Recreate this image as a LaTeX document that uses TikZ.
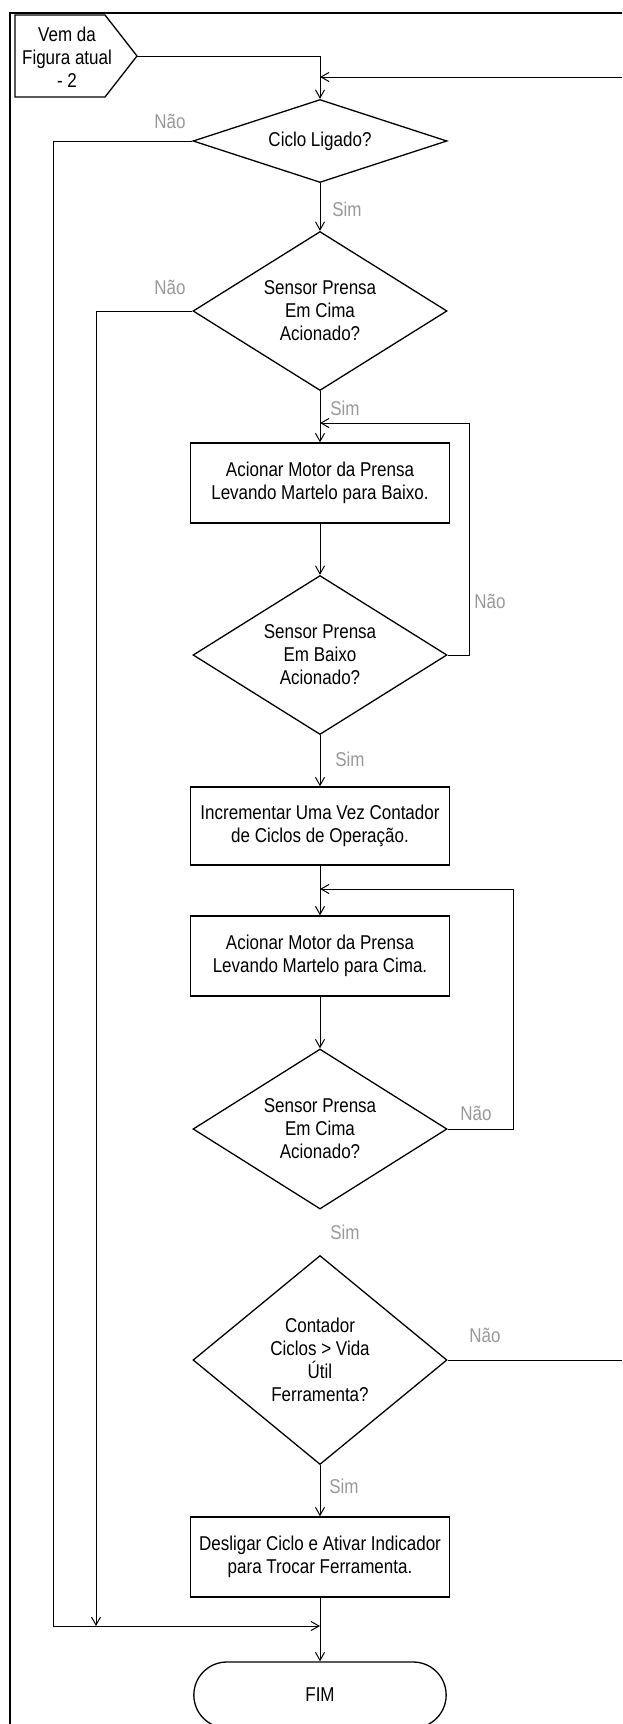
\documentclass[tikz,border=0pt]{standalone}
\usepackage{fontspec}
\setmainfont[FakeStretch=0.85]{Liberation Sans}
\usetikzlibrary{shapes.geometric,shapes.misc,arrows.meta}

\newcommand*{\xmax}{622}
\newcommand*{\ymax}{1724}
\newcommand*{\xcol}{320}

\begin{document}
\begin{tikzpicture}
[
	x=1pt, y=-1pt,
	every node/.style={font=\fontsize{20}{23}\selectfont, align=center},
	>={Straight Barb[length=8pt,width=9pt]},
	caixa/.style={rectangle,draw,line width=1.3pt,inner sep=2pt,minimum width=259pt,minimum height=80pt},
	decisao/.style={diamond,draw,line width=1.3pt,inner sep=0pt,minimum width=254pt},
	terminal/.style={rounded rectangle,draw,line width=1.3pt,minimum width=259pt,minimum height=66pt},
	contorno/.style={line width=1.3pt,line join=miter},
	seta/.style={->,line width=1pt},
	linha/.style={line width=1pt},
	rotulo/.style={text=black!40}
]

	% area
	\useasboundingbox (0,0) rectangle (\xmax,\ymax);
	\clip (0,0) rectangle (\xmax,\ymax);

	% moldura
	\draw[line width=1.3pt] (10,13) rectangle (640,1750);

	% inicio (conector de outra pagina)
	\node (inicio) at (67,57) {Vem da\\Figura atual\\- 2};
	\coordinate (ponta) at (137,56);
	\draw[contorno] (15,15) -- (105,15) -- (ponta) -- (105,97) -- (15,97) -- cycle;

	% blocos
	\node[decisao,aspect=3,minimum height=83pt] (ciclo) at (\xcol,141) {Ciclo Ligado?};
	\node[decisao,aspect=1.6,minimum height=159pt] (cimaA) at (\xcol,311) {Sensor Prensa\\Em Cima\\Acionado?};
	\node[caixa] (descer) at (\xcol,483) {Acionar Motor da Prensa\\Levando Martelo para Baixo.};
	\node[decisao,aspect=1.6,minimum height=159pt] (baixo) at (\xcol,655) {Sensor Prensa\\Em Baixo\\Acionado?};
	\node[caixa,minimum height=78pt] (contar) at (\xcol,826) {Incrementar Uma Vez Contador\\de Ciclos de Operação.};
	\node[caixa] (subir) at (\xcol,956) {Acionar Motor da Prensa\\Levando Martelo para Cima.};
	\node[decisao,aspect=1.6,minimum height=160pt] (cimaB) at (\xcol,1129) {Sensor Prensa\\Em Cima\\Acionado?};
	\node[decisao,aspect=1.2,minimum height=209pt] (vida) at (\xcol,1360) {Contador\\Ciclos > Vida\\Útil\\Ferramenta?};
	\node[caixa] (desligar) at (\xcol,1557) {Desligar Ciclo e Ativar Indicador\\para Trocar Ferramenta.};
	\node[terminal] (fim) at (\xcol,1695) {FIM};

	% pontos de juncao
	\coordinate (topo) at (\xcol,77);
	\coordinate (dirTopo) at (\xmax,77);
	\coordinate (dirVida) at (\xmax,1360);
	\coordinate (voltaA) at (\xcol,423);
	\coordinate (dirA) at (469,423);
	\coordinate (voltaB) at (\xcol,889);
	\coordinate (dirB) at (513,889);
	\coordinate (esqA) at (53,1626);
	\coordinate (esqB) at (96,1626);
	\coordinate (junta) at (\xcol,1626);

	% ligacoes
	\draw[seta] (ponta) -| (ciclo.north);
	\draw[seta] (dirTopo) -- (topo);
	\draw[seta] (ciclo.south) -- (cimaA.north);
	\draw[seta] (ciclo.west) -| (esqA) -- (junta);
	\draw[seta] (cimaA.west) -| (esqB);
	\draw[seta] (cimaA.south) -- (descer.north);
	\draw[seta] (descer.south) -- (baixo.north);
	\draw[seta] (baixo.east) -| (dirA) -- (voltaA);
	\draw[seta] (baixo.south) -- (contar.north);
	\draw[seta] (contar.south) -- (subir.north);
	\draw[seta] (subir.south) -- (cimaB.north);
	\draw[seta] (cimaB.east) -| (dirB) -- (voltaB);
	\draw[linha] (vida.east) -- (dirVida);
	\draw[seta] (vida.south) -- (desligar.north);
	\draw[seta] (desligar.south) -- (fim.north);

	% rotulos
	\node[rotulo] (naoA) at (170,121) {Não};
	\node[rotulo] (naoB) at (170,287) {Não};
	\node[rotulo] (naoC) at (490,601) {Não};
	\node[rotulo] (naoD) at (476,1113) {Não};
	\node[rotulo] (naoE) at (485,1335) {Não};
	\node[rotulo] (simA) at (347,209) {Sim};
	\node[rotulo] (simB) at (345,408) {Sim};
	\node[rotulo] (simC) at (350,759) {Sim};
	\node[rotulo] (simD) at (345,1232) {Sim};
	\node[rotulo] (simE) at (344,1486) {Sim};

\end{tikzpicture}
\end{document}
